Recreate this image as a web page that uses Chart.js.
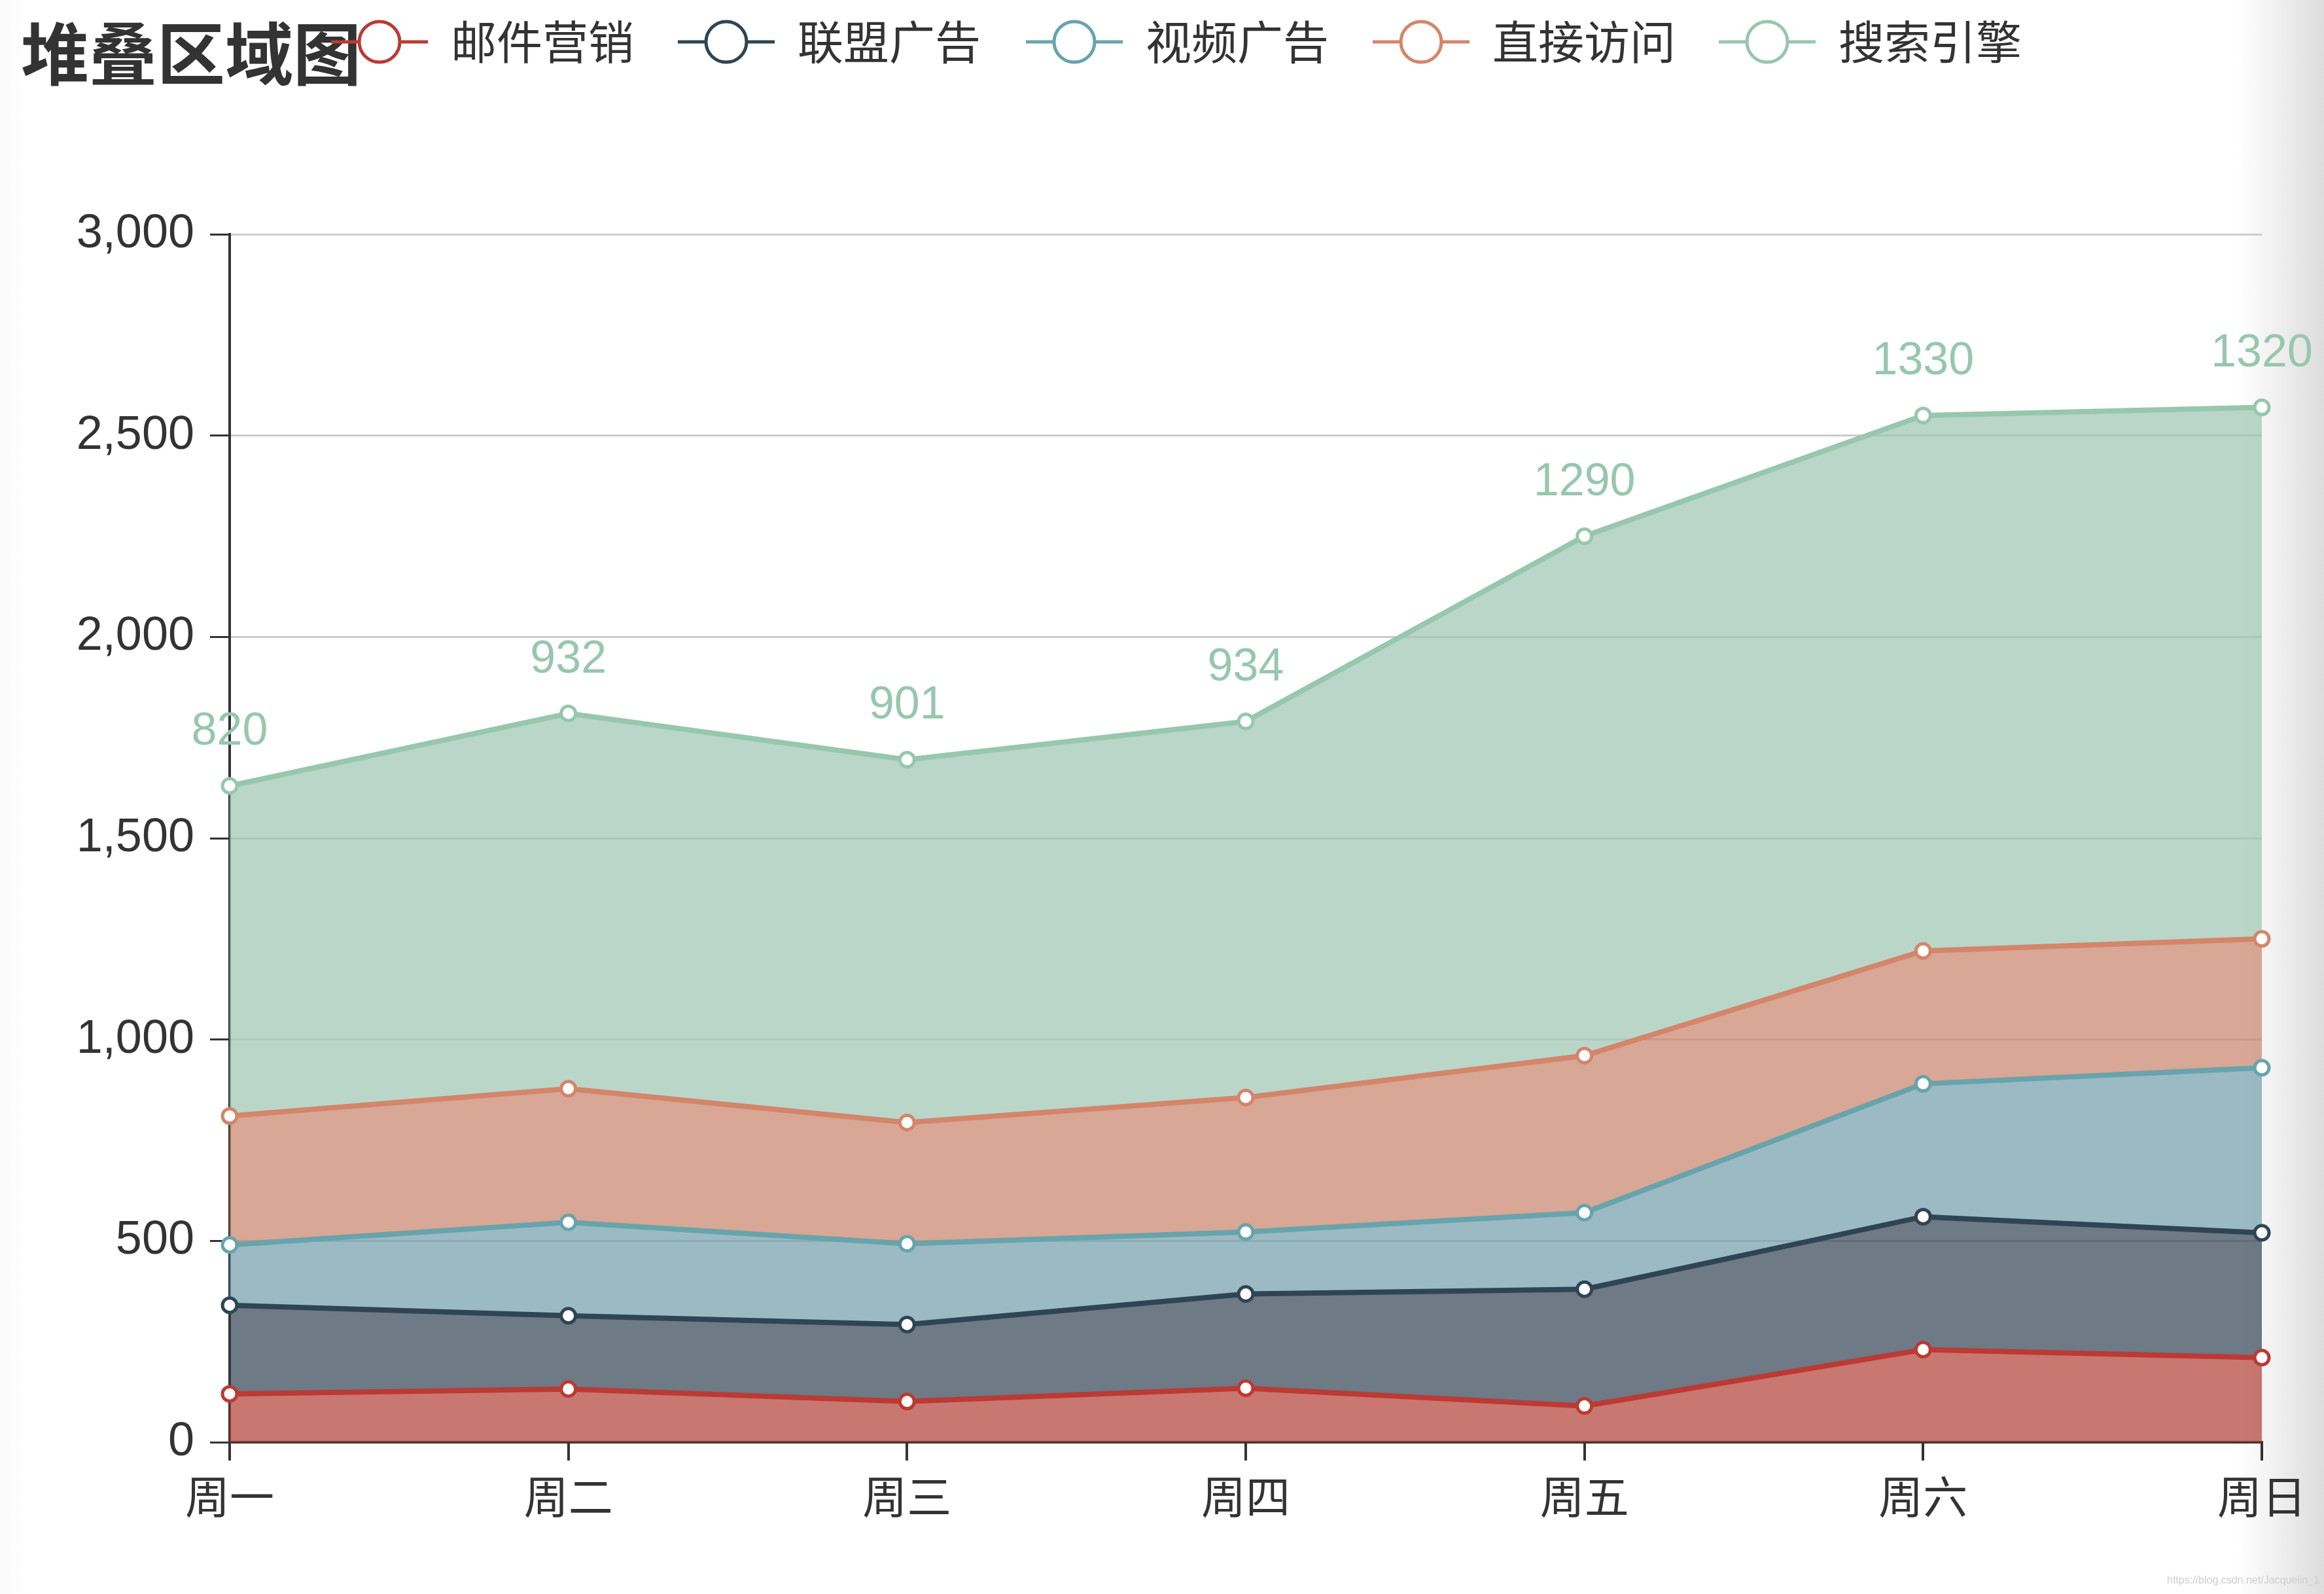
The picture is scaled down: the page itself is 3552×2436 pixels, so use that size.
<!DOCTYPE html>
<html>
<head>
<meta charset="utf-8">
<script src="https://cdn.jsdelivr.net/npm/chart.js@4/dist/chart.umd.min.js"></script>
<style>
  html, body { margin: 0; padding: 0; background: #fff; }
  #wrap { position: relative; width: 3552px; height: 2436px; overflow: hidden;
    background: linear-gradient(to right, #fafafa 0px, #ffffff 40px, #ffffff 3420px, #f0f0f0 3480px, #dcdcdc 3552px); }
  canvas { position: absolute; left: 0; top: 0; }
  #wm { position: absolute; left: 3312px; top: 2406px; font: 16px "Liberation Sans Narrow", "Liberation Sans", sans-serif; color: #cfcfcf; white-space: nowrap; }
</style>
</head>
<body>
<div id="wrap">
  <canvas id="c" width="3552" height="2436"></canvas>
  <div id="wm">https://blog.csdn.net/Jacquelin_1</div>
</div>
<script>
const chartTitle = '堆叠区域图';
const categories = ['周一', '周二', '周三', '周四', '周五', '周六', '周日'];
const seriesNames = ['邮件营销', '联盟广告', '视频广告', '直接访问', '搜索引擎'];
const mailValues = [120, 132, 101, 134, 90, 230, 210];
const allianceValues = [220, 182, 191, 234, 290, 330, 310];
const videoValues = [150, 232, 201, 154, 190, 330, 410];
const directValues = [320, 332, 301, 334, 390, 330, 320];
const searchValues = [820, 932, 901, 934, 1290, 1330, 1320];
const yTickValues = [0, 500, 1000, 1500, 2000, 2500, 3000];
const lineColors = ['#bc3a33', '#2f4554', '#67a4ac', '#d4856a', '#97c7ae'];
const fillColors = ['#b23d34', '#314251', '#709ca9', '#c7816a', '#9cc4b0'];

const FONT = '"Liberation Sans", "Noto Sans CJK SC", sans-serif';
const CJK = '"Noto Sans CJK SC", "Liberation Sans", sans-serif';

function hexA(hex, a) {
  const n = parseInt(hex.slice(1), 16);
  return `rgba(${(n >> 16) & 255},${(n >> 8) & 255},${n & 255},${a})`;
}

const valueSets = [mailValues, allianceValues, videoValues, directValues, searchValues];
const datasets = valueSets.map((vals, i) => ({
  label: seriesNames[i],
  data: vals,
  borderColor: lineColors[i],
  backgroundColor: hexA(fillColors[i], 0.7),
  borderWidth: 8,
  tension: 0,
  fill: i === 0 ? 'origin' : '-1',
  pointRadius: 11,
  pointBorderWidth: 5,
  pointBackgroundColor: '#ffffff',
  pointBorderColor: lineColors[i],
  order: i
}));

const overlay = {
  id: 'overlay',
  afterDatasetsDraw(chart) {
    const ctx = chart.ctx;
    const meta = chart.getDatasetMeta(4);
    ctx.save();
    ctx.font = '70px ' + FONT;
    ctx.fillStyle = lineColors[4];
    ctx.textAlign = 'center';
    ctx.textBaseline = 'middle';
    meta.data.forEach((pt, i) => {
      ctx.fillText(String(searchValues[i]), pt.x, pt.y - 82);
    });
    ctx.restore();
  },
  afterDraw(chart) {
    const ctx = chart.ctx;
    ctx.save();
    ctx.font = 'bold 104px ' + CJK;
    ctx.fillStyle = '#333333';
    ctx.textAlign = 'left';
    ctx.textBaseline = 'middle';
    ctx.fillText(chartTitle, 32, 82);
    const centers = [580, 1110, 1642, 2172, 2701];
    const ly = 64;
    seriesNames.forEach((name, i) => {
      const cx = centers[i];
      ctx.strokeStyle = lineColors[i];
      ctx.lineWidth = 5;
      ctx.beginPath();
      ctx.moveTo(cx - 74, ly);
      ctx.lineTo(cx + 74, ly);
      ctx.stroke();
      ctx.beginPath();
      ctx.arc(cx, ly, 31, 0, Math.PI * 2);
      ctx.fillStyle = '#ffffff';
      ctx.fill();
      ctx.stroke();
      ctx.font = '70px ' + CJK;
      ctx.fillStyle = '#333333';
      ctx.textAlign = 'left';
      ctx.textBaseline = 'middle';
      ctx.fillText(name, cx + 109, ly);
    });
    ctx.restore();
  }
};

new Chart(document.getElementById('c'), {
  type: 'line',
  data: { labels: categories, datasets },
  plugins: [overlay],
  options: {
    responsive: false,
    devicePixelRatio: 1,
    animation: false,
    layout: { padding: { top: 358, right: 95, left: 0, bottom: 0 } },
    plugins: { legend: { display: false }, title: { display: false }, tooltip: { enabled: false } },
    scales: {
      x: {
        offset: false,
        grid: { display: true, drawOnChartArea: false, drawTicks: true, tickLength: 28, tickColor: '#333333', lineWidth: 4 },
        border: { display: true, color: '#333333', width: 4 },
        ticks: { color: '#333333', font: { size: 68, family: CJK }, padding: 14, maxRotation: 0, autoSkip: false },
        afterFit(scale) { scale.height = 232; }
      },
      y: {
        stacked: true,
        min: 0,
        max: 3000,
        afterBuildTicks(scale) { scale.ticks = yTickValues.map(v => ({ value: v })); },
        grid: { color: '#cccccc', lineWidth: 3, drawTicks: true, tickLength: 30, tickColor: '#333333' },
        border: { display: true, color: '#333333', width: 4 },
        ticks: {
          color: '#333333',
          font: { size: 72, family: FONT },
          padding: 24,
          callback: v => v.toLocaleString('en-US')
        },
        afterFit(scale) { scale.width = 351; }
      }
    }
  }
});
</script>
</body>
</html>
